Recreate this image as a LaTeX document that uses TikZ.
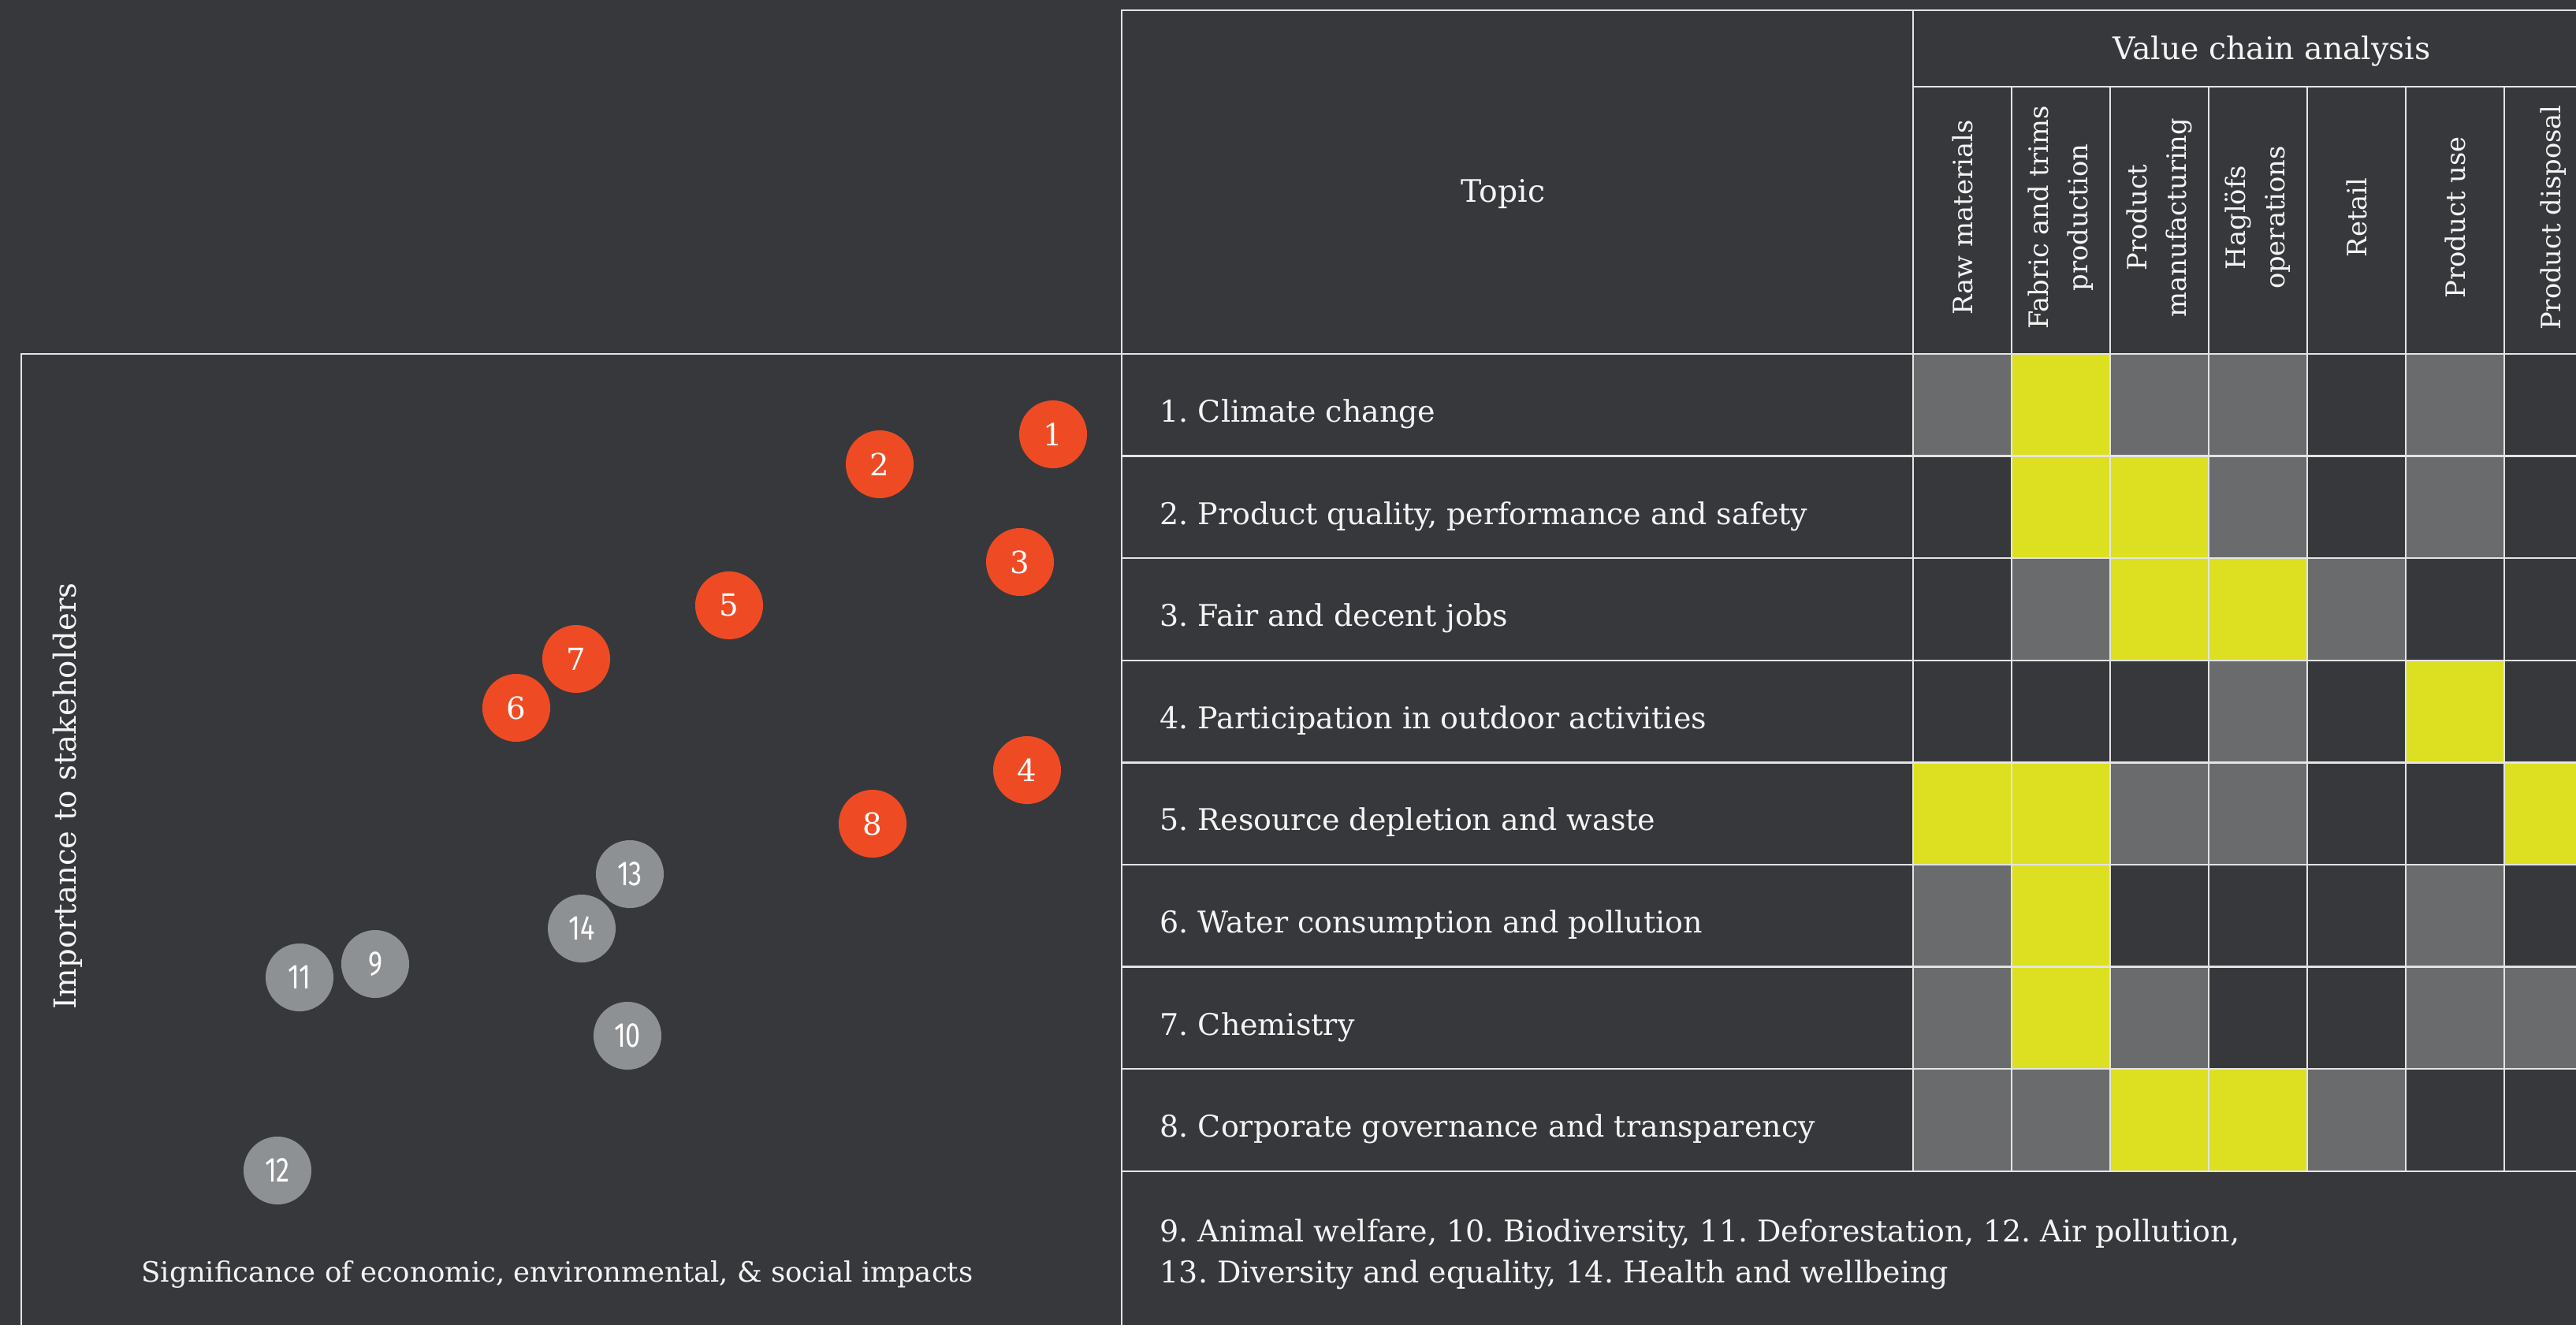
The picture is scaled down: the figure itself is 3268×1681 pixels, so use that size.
\documentclass[tikz,border=0pt]{standalone}
\usepackage{fontspec}
\setmainfont{DejaVu Serif}
\newfontfamily\numfont{Fira Sans}[FakeStretch=0.78]
\frenchspacing
\usetikzlibrary{positioning}
\definecolor{bgdark}{RGB}{55,56,60}
\definecolor{rulegray}{RGB}{228,228,228}
\definecolor{cellgray}{RGB}{106,107,109}
\definecolor{celllime}{RGB}{220,224,33}
\definecolor{dotorange}{RGB}{238,75,36}
\definecolor{dotgray}{RGB}{142,145,148}
\definecolor{inktext}{RGB}{244,244,244}
\tikzset{
  rule/.style={draw=rulegray,line width=0.65pt},
  cell/.style={rectangle,draw=rulegray,line width=0.65pt,minimum width=1.25cm,minimum height=1.296cm,inner sep=0pt},
  hot/.style={circle,fill=dotorange,minimum size=0.86cm,inner sep=0pt,text=white,font=\fontsize{11}{11}\selectfont},
  cool/.style={circle,fill=dotgray,minimum size=0.86cm,inner sep=0pt,text=white,font=\numfont\fontsize{12.5}{12.5}\selectfont},
  topic/.style={anchor=base west,inner sep=0pt,text=inktext,font=\fontsize{10.8}{14}\selectfont},
  stage/.style={rotate=90,align=center,inner sep=0pt,text=inktext,font=\fontsize{9.6}{14.2}\selectfont},
  headtext/.style={anchor=base,inner sep=0pt,text=inktext,font=\fontsize{11.2}{14}\selectfont},
  axistext/.style={anchor=base,inner sep=0pt,text=inktext,font=\fontsize{10.1}{14}\selectfont}
}
\begin{document}
\begin{tikzpicture}[x=0.01cm,y=-0.01cm]
\fill[bgdark] (0,0) rectangle (3268,1681);
\useasboundingbox (0,0) rectangle (3268,1681);
% matrix of value chain cells
\foreach \fills [count=\r] in {
  {cellgray,celllime,cellgray,cellgray,bgdark,cellgray,bgdark},
  {bgdark,celllime,celllime,cellgray,bgdark,cellgray,bgdark},
  {bgdark,cellgray,celllime,celllime,cellgray,bgdark,bgdark},
  {bgdark,bgdark,bgdark,cellgray,bgdark,celllime,bgdark},
  {celllime,celllime,cellgray,cellgray,bgdark,bgdark,celllime},
  {cellgray,celllime,bgdark,bgdark,bgdark,cellgray,bgdark},
  {cellgray,celllime,cellgray,bgdark,bgdark,cellgray,cellgray},
  {cellgray,cellgray,celllime,celllime,cellgray,bgdark,bgdark}}
  \foreach \f [count=\c] in \fills
    \node[cell,fill=\f] (c\r-\c) at ({2364.5+125*\c},{384.2+129.6*\r}) {};
% rules
\draw[rule] (3302,13) -- (1423,13) -- (1423,1681);
\draw[rule] (2427,13) -- (2427,1486);
\draw[rule] (2427,110) -- (3302,110);
\foreach \k in {1,...,7}
  \draw[rule] ({2427+125*\k},110) -- ({2427+125*\k},449);
\foreach \k in {0,...,8}
  \draw[rule] (1423,{449+129.6*\k}) -- (3302,{449+129.6*\k});
\draw[rule] (27,1681) -- (27,449) -- (1423,449);
% headers
\node[headtext] (topic) at (1907,256) {Topic};
\node[headtext] (vca) at (2882,75) {Value chain analysis};
\node[stage] (s1) at (2489.5,276) {Raw materials};
\node[stage] (s2) at (2614.5,276) {Fabric and trims\\production};
\node[stage] (s3) at (2739.5,276) {Product\\manufacturing};
\node[stage] (s4) at (2864.5,276) {Haglöfs\\operations};
\node[stage] (s5) at (2989.5,276) {Retail};
\node[stage] (s6) at (3114.5,276) {Product use};
\node[stage] (s7) at (3239.5,276) {Product disposal};
% topics
\node[topic] (t1) at (1471,535) {1. Climate change};
\node[topic] (t2) at (1471,665) {2. Product quality, performance and safety};
\node[topic] (t3) at (1471,794) {3. Fair and decent jobs};
\node[topic] (t4) at (1471,924) {4. Participation in outdoor activities};
\node[topic] (t5) at (1471,1053) {5. Resource depletion and waste};
\node[topic] (t6) at (1471,1183) {6. Water consumption and pollution};
\node[topic] (t7) at (1471,1313) {7. Chemistry};
\node[topic] (t8) at (1471,1442) {8. Corporate governance and transparency};
\node[topic] (fn1) at (1471,1575) {9. Animal welfare, 10. Biodiversity, 11. Deforestation, 12. Air pollution,};
\node[topic] (fn2) at (1471,1627) {13. Diversity and equality, 14. Health and wellbeing};
% materiality plot
\node[axistext,rotate=90,font=\fontsize{11}{14}\selectfont] (yaxis) at (97,1010) {Importance to stakeholders};
\node[axistext] (xaxis) at (707,1626) {Significance of economic, environmental, \& social impacts};
\node[hot] (p1) at (1336,551) {1};
\node[hot] (p2) at (1116,589) {2};
\node[hot] (p3) at (1294,713) {3};
\node[hot] (p4) at (1303,977) {4};
\node[hot] (p5) at (925,768) {5};
\node[hot] (p6) at (655,898) {6};
\node[hot] (p7) at (731,836) {7};
\node[hot] (p8) at (1107,1045) {8};
\node[cool] (p9) at (476,1223) {9};
\node[cool] (p10) at (796,1314) {10};
\node[cool] (p11) at (380,1240) {11};
\node[cool] (p12) at (352,1485) {12};
\node[cool] (p13) at (799,1109) {13};
\node[cool] (p14) at (738,1178) {14};
\end{tikzpicture}
\end{document}
